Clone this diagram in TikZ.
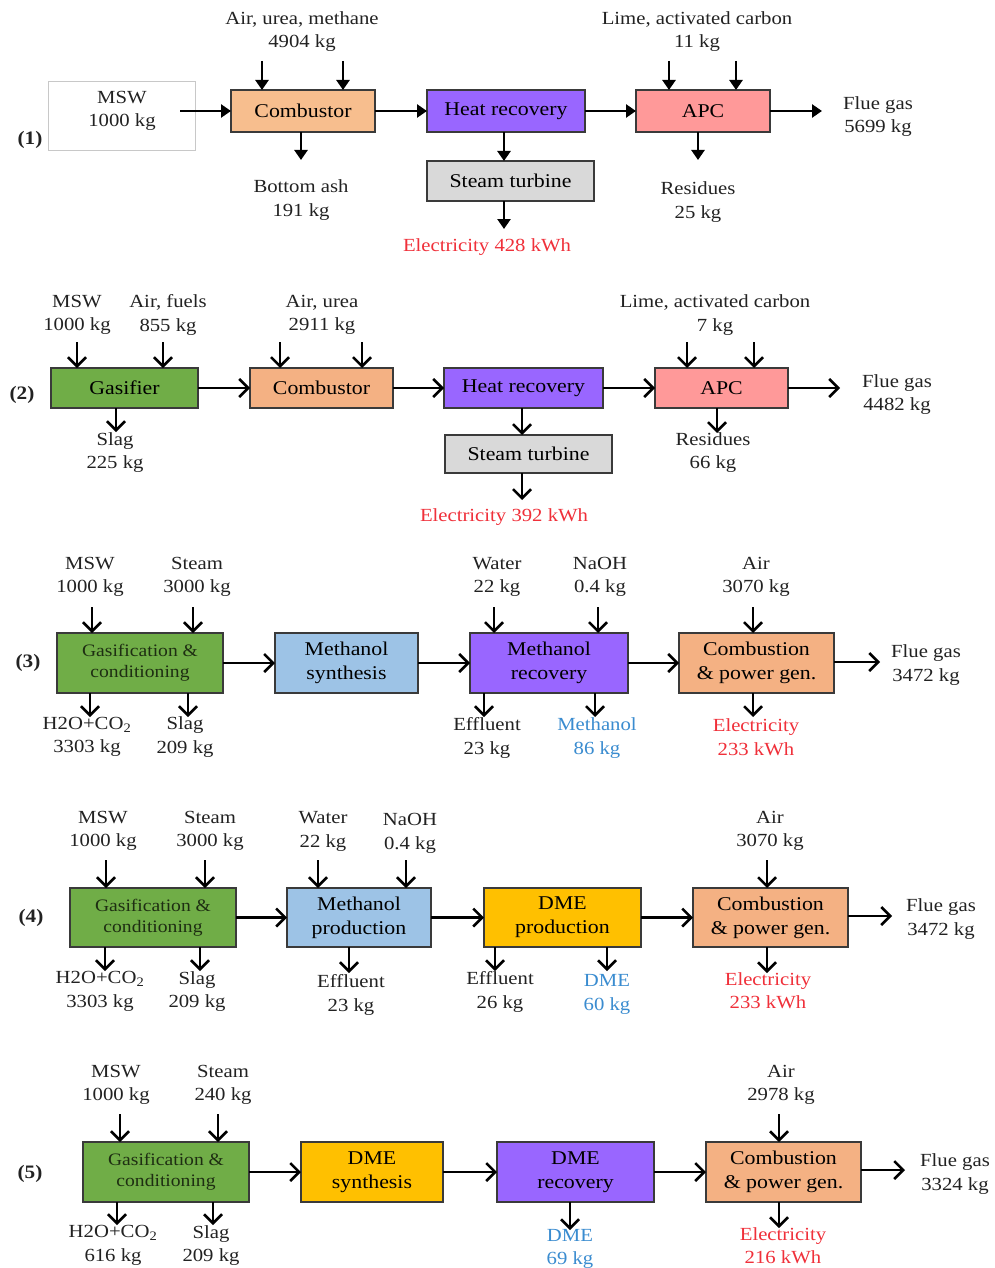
\documentclass[tikz,border=0pt]{standalone}
\usepackage{fontspec}
\setmainfont[FakeStretch=1.12]{Liberation Serif}
\usetikzlibrary{arrows.meta}
\definecolor{peachA}{HTML}{F7BE8E}
\definecolor{salmon}{HTML}{F4B183}
\definecolor{purp}{HTML}{9966FF}
\definecolor{grayb}{HTML}{D9D9D9}
\definecolor{pinkb}{HTML}{FF9999}
\definecolor{greenb}{HTML}{70AD47}
\definecolor{blueb}{HTML}{9DC3E6}
\definecolor{goldb}{HTML}{FFC000}
\definecolor{boxline}{HTML}{3A3A3A}
\definecolor{txt}{HTML}{222222}
\definecolor{redt}{HTML}{F0303A}
\definecolor{bluet}{HTML}{3A8CD0}
\definecolor{gtxt}{HTML}{1E2E12}
\tikzset{
  box/.style={draw=boxline, line width=1.6pt, inner sep=0pt, outer sep=0pt, align=center,
    font=\fontsize{19.5}{24}\selectfont, text=black},
  gbox/.style={box, fill=greenb, text=gtxt, font=\fontsize{17.5}{21}\selectfont},
  lbl/.style={align=center, font=\fontsize{18.5}{23.5}\selectfont, text=txt, inner sep=0pt},
  rlbl/.style={lbl, text=redt},
  blbl/.style={lbl, text=bluet},
  num/.style={font=\fontsize{19}{20}\selectfont\bfseries, text=txt, inner sep=0pt},
  arrA/.style={line width=2.5pt, draw=black, -{Triangle[length=10pt,width=13pt]}},
  arrB/.style={line width=2.5pt, draw=black, -{Straight Barb[length=9pt,width=18pt]}}
}
\begin{document}
\begin{tikzpicture}[x=1pt,y=-1pt]
\useasboundingbox (0,0) rectangle (994,1268);
\fill[white] (0,0) rectangle (994,1268);

% ---------------- Row 1 ----------------
\node[num] (n1) at (30,140) {(1)};
\node[draw={rgb,255:red,200;green,200;blue,200}, line width=0.8pt, minimum width=147pt, minimum height=69pt, inner sep=0pt] (msw1box) at (121.5,115.5) {};
\node[lbl] (msw1) at (122,111) {MSW\\1000 kg};
\node[box, fill=peachA, minimum width=144pt, minimum height=42pt] (comb1) at (303,111) {Combustor};
\node[box, fill=purp, minimum width=158pt, minimum height=42pt] (hr1) at (506,111) {Heat recovery};
\node[box, fill=grayb, minimum width=167pt, minimum height=40pt] (st1) at (510.5,181) {Steam turbine};
\node[box, fill=pinkb, minimum width=134pt, minimum height=42pt] (apc1) at (703,111) {APC};

\node[lbl] (l1a) at (302,31.5) {Air, urea, methane\\4904 kg};
\node[lbl] (l1b) at (301,200) {Bottom ash\\191 kg};
\node[rlbl] (l1c) at (487,247) {Electricity 428 kWh};
\node[lbl] (l1d) at (697,31.5) {Lime, activated carbon\\11 kg};
\node[lbl] (l1e) at (698,202) {Residues\\25 kg};
\node[lbl] (l1f) at (878,116.5) {Flue gas\\5699 kg};

\coordinate (m1) at (180,111);
\draw[arrA] (m1) -- (comb1.west);
\draw[arrA] (comb1.east) -- (hr1.west);
\draw[arrA] (hr1.east) -- (apc1.west);
\coordinate (f1) at (822,111);
\draw[arrA] (apc1.east) -- (f1);
\coordinate (i1a) at (262,61); \coordinate (i1b) at (343,61);
\draw[arrA] (i1a) -- (i1a |- comb1.north);
\draw[arrA] (i1b) -- (i1b |- comb1.north);
\coordinate (o1a) at (301,160);
\draw[arrA] (o1a |- comb1.south) -- (o1a);
\coordinate (s1) at (504,0);
\draw[arrA] (s1 |- hr1.south) -- (s1 |- st1.north);
\coordinate (e1) at (504,229);
\draw[arrA] (e1 |- st1.south) -- (e1);
\coordinate (i1c) at (669,61); \coordinate (i1d) at (736,61);
\draw[arrA] (i1c) -- (i1c |- apc1.north);
\draw[arrA] (i1d) -- (i1d |- apc1.north);
\coordinate (o1b) at (698,160);
\draw[arrA] (o1b |- apc1.south) -- (o1b);

% ---------------- Row 2 ----------------
\node[num] (n2) at (22,395) {(2)};
\node[box, fill=greenb, minimum width=147pt, minimum height=40pt] (gas2) at (124.5,388) {Gasifier};
\node[box, fill=salmon, minimum width=143pt, minimum height=40pt] (comb2) at (321.5,388) {Combustor};
\node[box, fill=purp, minimum width=159pt, minimum height=40pt] (hr2) at (523.5,388) {Heat recovery};
\node[box, fill=grayb, minimum width=167pt, minimum height=38pt] (st2) at (528.5,454) {Steam turbine};
\node[box, fill=pinkb, minimum width=133pt, minimum height=40pt] (apc2) at (721.5,388) {APC};

\node[lbl] (l2a) at (77,315) {MSW\\1000 kg};
\node[lbl] (l2b) at (168,315) {Air, fuels\\855 kg};
\node[lbl] (l2c) at (115,452.5) {Slag\\225 kg};
\node[lbl] (l2d) at (322,315) {Air, urea\\2911 kg};
\node[rlbl] (l2e) at (504,517) {Electricity 392 kWh};
\node[lbl] (l2f) at (715,315) {Lime, activated carbon\\7 kg};
\node[lbl] (l2g) at (713,452.5) {Residues\\66 kg};
\node[lbl] (l2h) at (897,394.5) {Flue gas\\4482 kg};

\draw[arrB] (gas2.east) -- (comb2.west);
\draw[arrB] (comb2.east) -- (hr2.west);
\draw[arrB] (hr2.east) -- (apc2.west);
\coordinate (f2) at (840,388);
\draw[arrB] (apc2.east) -- (f2);
\coordinate (i2a) at (77,342); \coordinate (i2b) at (163,342);
\draw[arrB] (i2a) -- (i2a |- gas2.north);
\draw[arrB] (i2b) -- (i2b |- gas2.north);
\coordinate (o2a) at (116,432);
\draw[arrB] (o2a |- gas2.south) -- (o2a);
\coordinate (i2c) at (280,342); \coordinate (i2d) at (362,342);
\draw[arrB] (i2c) -- (i2c |- comb2.north);
\draw[arrB] (i2d) -- (i2d |- comb2.north);
\coordinate (s2) at (522,0);
\draw[arrB] (s2 |- hr2.south) -- (s2 |- st2.north);
\coordinate (e2) at (522,500);
\draw[arrB] (e2 |- st2.south) -- (e2);
\coordinate (i2e) at (687,342); \coordinate (i2f) at (754,342);
\draw[arrB] (i2e) -- (i2e |- apc2.north);
\draw[arrB] (i2f) -- (i2f |- apc2.north);
\coordinate (o2b) at (717,433);
\draw[arrB] (o2b |- apc2.south) -- (o2b);

% ---------------- Row 3 ----------------
\node[num] (n3) at (28,663) {(3)};
\node[gbox, minimum width=166pt, minimum height=60pt] (gas3) at (140,663) {Gasification \&\\conditioning};
\node[box, fill=blueb, minimum width=143pt, minimum height=60pt] (ms3) at (346.5,663) {Methanol\\synthesis};
\node[box, fill=purp, minimum width=158pt, minimum height=60pt] (mr3) at (549,663) {Methanol\\recovery};
\node[box, fill=salmon, minimum width=155pt, minimum height=60pt] (cp3) at (756.5,663) {Combustion\\\& power gen.};

\node[lbl] (l3a) at (90,577) {MSW\\1000 kg};
\node[lbl] (l3b) at (197,577) {Steam\\3000 kg};
\node[lbl] (l3c) at (87,737) {H2O+CO\textsubscript{2}\\3303 kg};
\node[lbl] (l3d) at (185,737) {Slag\\209 kg};
\node[lbl] (l3e) at (497,577) {Water\\22 kg};
\node[lbl] (l3f) at (600,577) {NaOH\\0.4 kg};
\node[lbl] (l3g) at (487,738) {Effluent\\23 kg};
\node[blbl] (l3h) at (597,738) {Methanol\\86 kg};
\node[lbl] (l3i) at (756,577) {Air\\3070 kg};
\node[rlbl] (l3j) at (756,737) {Electricity\\233 kWh};
\node[lbl] (l3k) at (926,665) {Flue gas\\3472 kg};

\draw[arrB] (gas3.east) -- (ms3.west);
\draw[arrB] (ms3.east) -- (mr3.west);
\draw[arrB] (mr3.east) -- (cp3.west);
\coordinate (f3) at (880,662);
\draw[arrB] (f3 -| cp3.east) -- (f3);
\coordinate (i3a) at (92,607); \coordinate (i3b) at (193,607);
\draw[arrB] (i3a) -- (i3a |- gas3.north);
\draw[arrB] (i3b) -- (i3b |- gas3.north);
\coordinate (o3a) at (90,717); \coordinate (o3b) at (188,717);
\draw[arrB] (o3a |- gas3.south) -- (o3a);
\draw[arrB] (o3b |- gas3.south) -- (o3b);
\coordinate (i3c) at (494,607); \coordinate (i3d) at (598,607);
\draw[arrB] (i3c) -- (i3c |- mr3.north);
\draw[arrB] (i3d) -- (i3d |- mr3.north);
\coordinate (o3c) at (484,717); \coordinate (o3d) at (595,717);
\draw[arrB] (o3c |- mr3.south) -- (o3c);
\draw[arrB] (o3d |- mr3.south) -- (o3d);
\coordinate (i3e) at (753,607);
\draw[arrB] (i3e) -- (i3e |- cp3.north);
\coordinate (o3e) at (753,717);
\draw[arrB] (o3e |- cp3.south) -- (o3e);

% ---------------- Row 4 ----------------
\node[num] (n4) at (31,918) {(4)};
\node[gbox, minimum width=166pt, minimum height=59pt] (gas4) at (153,917.5) {Gasification \&\\conditioning};
\node[box, fill=blueb, minimum width=144pt, minimum height=59pt] (mp4) at (359,917.5) {Methanol\\production};
\node[box, fill=goldb, minimum width=157pt, minimum height=59pt] (dp4) at (562.5,917.5) {DME\\production};
\node[box, fill=salmon, minimum width=155pt, minimum height=59pt] (cp4) at (770.5,917.5) {Combustion\\\& power gen.};

\node[lbl] (l4a) at (103,831) {MSW\\1000 kg};
\node[lbl] (l4b) at (210,831) {Steam\\3000 kg};
\node[lbl] (l4c) at (100,991.5) {H2O+CO\textsubscript{2}\\3303 kg};
\node[lbl] (l4d) at (197,991.5) {Slag\\209 kg};
\node[lbl] (l4e) at (323,831.5) {Water\\22 kg};
\node[lbl] (l4f) at (410,833.5) {NaOH\\0.4 kg};
\node[lbl] (l4g) at (351,995) {Effluent\\23 kg};
\node[lbl] (l4h) at (500,992) {Effluent\\26 kg};
\node[blbl] (l4i) at (607,994.5) {DME\\60 kg};
\node[lbl] (l4j) at (770,831) {Air\\3070 kg};
\node[rlbl] (l4k) at (768,990.5) {Electricity\\233 kWh};
\node[lbl] (l4l) at (941,919) {Flue gas\\3472 kg};

\draw[arrB] (gas4.east) -- (mp4.west);
\draw[arrB] (mp4.east) -- (dp4.west);
\draw[arrB] (dp4.east) -- (cp4.west);
\coordinate (f4) at (892,916);
\draw[arrB] (f4 -| cp4.east) -- (f4);
\coordinate (i4a) at (106,860); \coordinate (i4b) at (205,860);
\draw[arrB] (i4a) -- (i4a |- gas4.north);
\draw[arrB] (i4b) -- (i4b |- gas4.north);
\coordinate (o4a) at (105,971); \coordinate (o4b) at (200,971);
\draw[arrB] (o4a |- gas4.south) -- (o4a);
\draw[arrB] (o4b |- gas4.south) -- (o4b);
\coordinate (i4c) at (318,860); \coordinate (i4d) at (406,860);
\draw[arrB] (i4c) -- (i4c |- mp4.north);
\draw[arrB] (i4d) -- (i4d |- mp4.north);
\coordinate (o4c) at (349,973);
\draw[arrB] (o4c |- mp4.south) -- (o4c);
\coordinate (o4d) at (495,971); \coordinate (o4e) at (607,971);
\draw[arrB] (o4d |- dp4.south) -- (o4d);
\draw[arrB] (o4e |- dp4.south) -- (o4e);
\coordinate (i4e) at (767,860);
\draw[arrB] (i4e) -- (i4e |- cp4.north);
\coordinate (o4f) at (767,973);
\draw[arrB] (o4f |- cp4.south) -- (o4f);

% ---------------- Row 5 ----------------
\node[num] (n5) at (30,1174) {(5)};
\node[gbox, minimum width=166pt, minimum height=60pt] (gas5) at (166,1172) {Gasification \&\\conditioning};
\node[box, fill=goldb, minimum width=142pt, minimum height=60pt] (ds5) at (372,1172) {DME\\synthesis};
\node[box, fill=purp, minimum width=157pt, minimum height=60pt] (dr5) at (575.5,1172) {DME\\recovery};
\node[box, fill=salmon, minimum width=155pt, minimum height=60pt] (cp5) at (783.5,1172) {Combustion\\\& power gen.};

\node[lbl] (l5a) at (116,1085) {MSW\\1000 kg};
\node[lbl] (l5b) at (223,1085) {Steam\\240 kg};
\node[lbl] (l5c) at (113,1245.5) {H2O+CO\textsubscript{2}\\616 kg};
\node[lbl] (l5d) at (211,1245.5) {Slag\\209 kg};
\node[blbl] (l5e) at (570,1249) {DME\\69 kg};
\node[lbl] (l5f) at (781,1085) {Air\\2978 kg};
\node[rlbl] (l5g) at (783,1245.5) {Electricity\\216 kWh};
\node[lbl] (l5h) at (955,1174) {Flue gas\\3324 kg};

\draw[arrB] (gas5.east) -- (ds5.west);
\draw[arrB] (ds5.east) -- (dr5.west);
\draw[arrB] (dr5.east) -- (cp5.west);
\coordinate (f5) at (905,1170);
\draw[arrB] (f5 -| cp5.east) -- (f5);
\coordinate (i5a) at (120,1114); \coordinate (i5b) at (218,1114);
\draw[arrB] (i5a) -- (i5a |- gas5.north);
\draw[arrB] (i5b) -- (i5b |- gas5.north);
\coordinate (o5a) at (117,1225); \coordinate (o5b) at (213,1225);
\draw[arrB] (o5a |- gas5.south) -- (o5a);
\draw[arrB] (o5b |- gas5.south) -- (o5b);
\coordinate (o5c) at (570,1230);
\draw[arrB] (o5c |- dr5.south) -- (o5c);
\coordinate (i5c) at (779,1114);
\draw[arrB] (i5c) -- (i5c |- cp5.north);
\coordinate (o5d) at (779,1228);
\draw[arrB] (o5d |- cp5.south) -- (o5d);
\end{tikzpicture}
\end{document}
